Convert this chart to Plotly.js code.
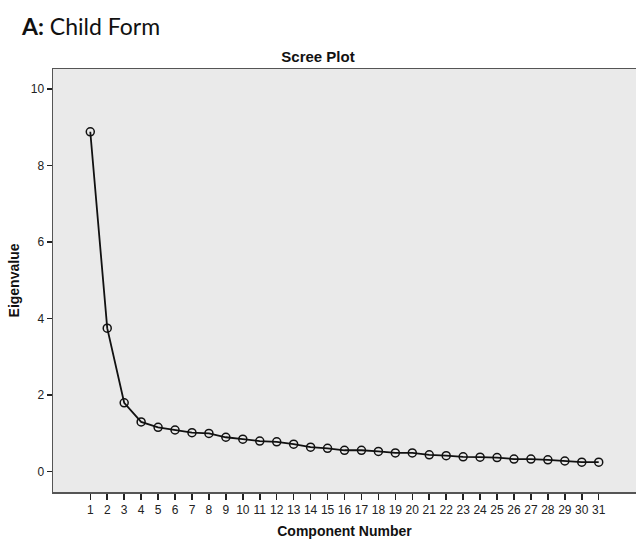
<!DOCTYPE html>
<html>
<head>
<meta charset="utf-8">
<script src="https://cdn.plot.ly/plotly-3.0.1.min.js"></script>
<style>html,body{margin:0;padding:0;background:#fff;}#chart{width:636px;height:539px;}</style>
</head>
<body>
<div id="chart"></div>
<script>
const components = [1,2,3,4,5,6,7,8,9,10,11,12,13,14,15,16,17,18,19,20,21,22,23,24,25,26,27,28,29,30,31];
const eigenvalues = [8.88,3.75,1.80,1.30,1.16,1.09,1.02,1.00,0.90,0.85,0.80,0.78,0.72,0.64,0.61,0.56,0.56,0.53,0.49,0.49,0.44,0.42,0.39,0.38,0.37,0.33,0.33,0.31,0.28,0.25,0.25];
const yTicks = [0,2,4,6,8,10];
const panelLabel = "<b>A:</b> Child Form";
const chartTitle = "<b>Scree Plot</b>";
const xTitle = "<b>Component Number</b>";
const yTitle = "<b>Eigenvalue</b>";

const trace = {
  x: components,
  y: eigenvalues,
  type: 'scatter',
  mode: 'lines+markers',
  line: {color: '#111', width: 1.8},
  marker: {symbol: 'circle-open', size: 8, color: '#111', line: {width: 1.5, color: '#111'}},
  hoverinfo: 'x+y'
};

const layout = {
  width: 636, height: 539,
  margin: {l: 53, r: 0, t: 69, b: 47},
  paper_bgcolor: '#ffffff',
  plot_bgcolor: '#eaeaea',
  showlegend: false,
  font: {family: 'Liberation Sans, Arial, sans-serif', color: '#111', size: 12},
  title: {
    text: chartTitle,
    font: {family: 'Liberation Sans, Arial, sans-serif', size: 15, color: '#111'},
    xref: 'container', x: 318/636, xanchor: 'center',
    yref: 'container', y: 1 - 57/539, yanchor: 'middle'
  },
  xaxis: {
    range: [-1.2, 33.2],
    tickmode: 'array', tickvals: components, ticktext: components.map(String),
    ticks: 'outside', ticklen: 6, tickwidth: 1.5, tickcolor: '#222',
    showline: true, mirror: true, linecolor: '#555', linewidth: 1.5,
    showgrid: false, zeroline: false,
    tickfont: {size: 12, color: '#222'},
    title: {text: xTitle, font: {size: 14, color: '#111'}, standoff: 10}
  },
  yaxis: {
    range: [-0.53, 10.52],
    tickmode: 'array', tickvals: yTicks,
    ticks: 'outside', ticklen: 5, tickwidth: 1.5, tickcolor: '#222',
    showline: true, linecolor: '#555', linewidth: 1.5,
    showgrid: false, zeroline: false,
    tickfont: {size: 12, color: '#222'},
    title: {text: yTitle, font: {size: 14, color: '#111'}, standoff: 8}
  },
  annotations: [{
    text: panelLabel,
    xref: 'paper', yref: 'paper',
    x: (19 - 53) / 583, y: (492 - 26) / 423,
    xanchor: 'left', yanchor: 'middle',
    showarrow: false,
    font: {family: 'Lato, "Open Sans", sans-serif', size: 23, color: '#111'}
  }]
};

Plotly.newPlot('chart', [trace], layout, {displayModeBar: false, staticPlot: true});
</script>
</body>
</html>
